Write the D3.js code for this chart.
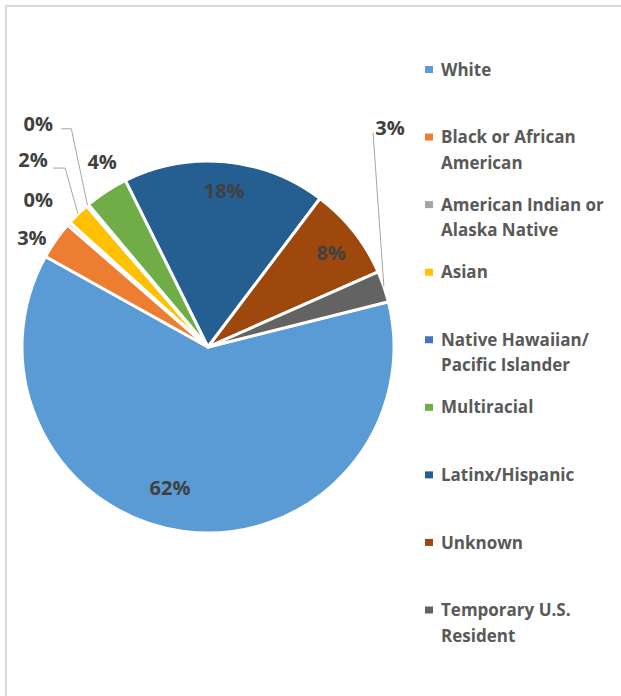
<!DOCTYPE html>
<html>
<head>
<meta charset="utf-8">
<script src="https://cdn.jsdelivr.net/npm/d3@7"></script>
<style>
  html, body { margin: 0; padding: 0; background: #fff; }
  svg { display: block; }
  text { font-family: "Open Sans", "DejaVu Sans", sans-serif; font-weight: bold; }
</style>
</head>
<body>
<svg id="chart" width="621" height="696"></svg>
<script>
// ---- data ----
const categories = ["White", "Black or African American", "American Indian or Alaska Native", "Asian",
  "Native Hawaiian/ Pacific Islander", "Multiracial", "Latinx/Hispanic", "Unknown", "Temporary U.S. Resident"];
const values = [62.0, 3.3, 0.3, 2.0, 0.2, 3.8, 17.6, 8.1, 2.7];
const labels = ["62%", "3%", "0%", "2%", "0%", "4%", "18%", "8%", "3%"];
const legendLines = [["White"], ["Black or African", "American"], ["American Indian or", "Alaska Native"], ["Asian"],
  ["Native Hawaiian/", "Pacific Islander"], ["Multiracial"], ["Latinx/Hispanic"], ["Unknown"], ["Temporary U.S.", "Resident"]];
const colors = ["#5B9BD5", "#ED7D31", "#A5A5A5", "#FFC000", "#4472C4", "#70AD47", "#255E91", "#9E480E", "#636363"];

// ---- layout ----
const W = 621, H = 696;
const cx = 208, cy = 347, R = 186;
const firstSliceAngle = 75.9; // degrees, clockwise from 12 o'clock
// label placement: [angle deg, radius] in polar coordinates around the pie centre
const labelPolar = [[195.1, 146], [301.7, 207], [311.0, 225], [316.9, 256], [322.7, 280], [330.2, 213], [5.9, 157], [52.6, 155], [39.7, 285]];
// leader lines: null or offsets relative to the label centre [elbow, end]
const leaders = [null, null, null, [[32, 8], [20, 8]], [[33, 4.5], [23, 4.5]], null, null, null, [[-17, 5]]];

const svg = d3.select("#chart");
svg.append("rect").attr("width", W).attr("height", H).attr("fill", "#fff");
// frame (only top/left visible in the crop)
svg.append("rect").attr("x", 6).attr("y", 6).attr("width", W + 20).attr("height", H + 20)
  .attr("fill", "none").attr("stroke", "#d9d9d9").attr("stroke-width", 2);

const rad = d => d * Math.PI / 180;
const pie = d3.pie().sort(null).value(d => d)
  .startAngle(rad(firstSliceAngle)).endAngle(rad(firstSliceAngle) + 2 * Math.PI);
const arcs = pie(values);
const arc = d3.arc().innerRadius(0).outerRadius(R);
const edgeArc = d3.arc().innerRadius(R).outerRadius(R);

const g = svg.append("g").attr("transform", `translate(${cx},${cy})`);
g.selectAll("path.slice").data(arcs).join("path")
  .attr("class", "slice")
  .attr("d", arc)
  .attr("fill", (d, i) => colors[i])
  .attr("stroke", "#fff").attr("stroke-width", 3).attr("stroke-linejoin", "round");

const polar = (a, r) => [r * Math.sin(rad(a)), -r * Math.cos(rad(a))];

// leader lines
arcs.forEach((d, i) => {
  if (!leaders[i]) return;
  const p0 = edgeArc.centroid(d);
  const lc = polar(labelPolar[i][0], labelPolar[i][1]);
  const pts = [p0].concat(leaders[i].map(o => [lc[0] + o[0], lc[1] + o[1]]));
  g.append("path").attr("d", d3.line()(pts))
    .attr("fill", "none").attr("stroke", "#A6A6A6").attr("stroke-width", 1);
});

// data labels
g.selectAll("text.lbl").data(arcs).join("text")
  .attr("class", "lbl")
  .attr("x", (d, i) => polar(labelPolar[i][0], labelPolar[i][1])[0])
  .attr("y", (d, i) => polar(labelPolar[i][0], labelPolar[i][1])[1])
  .attr("text-anchor", "middle").attr("dy", "0.36em")
  .attr("font-size", 20).attr("fill", "#404040")
  .text((d, i) => labels[i]);

// legend
const legendY = d3.scalePoint().domain(d3.range(categories.length)).range([69.5, 610]);
const lg = svg.append("g");
categories.forEach((c, i) => {
  const y = legendY(i);
  lg.append("rect").attr("x", 425).attr("y", y - 3.5).attr("width", 8).attr("height", 7).attr("fill", colors[i]);
  const t = lg.append("text").attr("x", 441).attr("y", y).attr("dy", "0.36em")
    .attr("font-size", 17).attr("fill", "#595959");
  legendLines[i].forEach((ln, j) => {
    t.append("tspan").attr("x", 441).attr("dy", j === 0 ? "0.36em" : 25.5).text(ln);
  });
});
</script>
</body>
</html>
